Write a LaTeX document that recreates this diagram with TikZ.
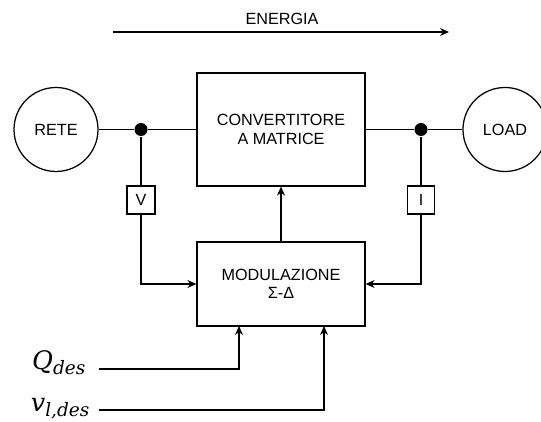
\documentclass[tikz,border=0pt]{standalone}
\usepackage{fontspec}
\setmainfont{Liberation Sans}
\newfontfamily\mserif{DejaVu Serif}
\usetikzlibrary{arrows.meta}
\newcommand{\mlbl}[2]{{\mserif\itshape\fontsize{25.5}{28}\selectfont #1\raisebox{-5.5pt}{\fontsize{18.5}{21}\selectfont #2}}}
\begin{document}
\begin{tikzpicture}[x=1pt,y=-1pt,
  line width=1.25pt,
  lbl/.style={font=\fontsize{16.2}{18.5}\selectfont, align=center},
  blk/.style={draw, rectangle, lbl, inner sep=0pt},
  ring/.style={draw, circle, lbl, inner sep=0pt, minimum size=84pt},
  dot/.style={fill, circle, inner sep=0pt, minimum size=13pt},
  meas/.style={draw, rectangle, lbl, inner sep=0pt, minimum width=28pt, minimum height=28pt},
  arr/.style={-{Stealth[length=9pt,width=8pt]}},
  mathlbl/.style={inner sep=0pt}
]
\useasboundingbox (0,0) rectangle (541,422);
\fill[white] (0,0) rectangle (541,422);

\node[lbl] (en) at (282,19) {ENERGIA};
\coordinate (ea) at (113,32);
\coordinate (eb) at (449,32);
\draw[line width=1.1pt, arr] (ea) -- (eb);

\node[ring] (rete) at (56,129.5) {RETE};
\node[ring] (load) at (505,129.5) {LOAD};
\node[blk, minimum width=168pt, minimum height=113pt] (conv) at (281,129.5) {CONVERTITORE\\A MATRICE};
\node[blk, minimum width=168pt, minimum height=84pt] (mod) at (281,284) {MODULAZIONE\\Σ-Δ};
\node[dot] (j1) at (141,129.5) {};
\node[dot] (j2) at (421,129.5) {};
\node[meas] (vb) at (141,200) {V};
\node[meas, minimum width=27pt] (ib) at (421,200) {I};

\draw (rete) -- (j1) -- (conv);
\draw (conv) -- (j2) -- (load);
\draw (j1) -- (vb);
\draw (j2) -- (ib);
\draw[arr] (vb.south) |- (mod.west);
\draw[arr] (ib.south) |- (mod.east);
\draw[arr] (mod.north) -- (conv.south);

\coordinate (qs) at (99,369);
\coordinate (qe) at (239,326);
\coordinate (vs) at (99,410);
\coordinate (ve) at (324,326);
\draw[arr] (qs) -| (qe);
\draw[arr] (vs) -| (ve);

\node[mathlbl, anchor=base east] (ql) at (86,369) {\mlbl{Q}{des}};
\node[mathlbl, anchor=base east] (vl) at (90,411) {\mlbl{v}{l,des}};
\end{tikzpicture}
\end{document}
